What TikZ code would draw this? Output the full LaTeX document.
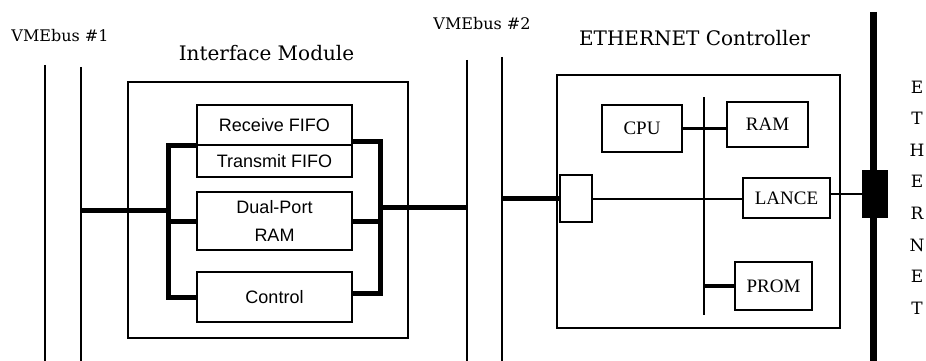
\documentclass[tikz,border=0pt]{standalone}
\usepackage{fontspec}
\setmainfont{DejaVu Serif}
\newfontfamily\sansbox{Liberation Sans}
\newfontfamily\serifbox{Liberation Serif}
\usetikzlibrary{calc}
\begin{document}
\begin{tikzpicture}[x=1pt,y=-1pt,
  bus/.style={line width=2.8pt},
  thk/.style={line width=5pt},
  thn/.style={line width=2pt},
  frame/.style={draw,line width=1.8pt,inner sep=0pt,outer sep=0pt},
  box/.style={draw,line width=1.6pt,inner sep=0pt,outer sep=0pt,fill=white},
  sbox/.style={box,font=\sansbox\fontsize{18}{28}\selectfont,align=center},
  rbox/.style={box,font=\serifbox\fontsize{19}{22}\selectfont},
  title/.style={font=\fontsize{20}{24}\selectfont},
  busname/.style={font=\fontsize{16}{19}\selectfont}]
\useasboundingbox (0,0) rectangle (926,361);
\fill[white] (0,0) rectangle (926,361);

% VME bus lines
\coordinate (b1t) at (45,65);  \coordinate (b1b) at (45,361);
\coordinate (b2t) at (81,67);  \coordinate (b2b) at (81,361);
\coordinate (b3t) at (467,60); \coordinate (b3b) at (467,361);
\coordinate (b4t) at (502,57); \coordinate (b4b) at (502,361);
\draw[bus] (b1t) -- (b1b);
\draw[bus] (b2t) -- (b2b);
\draw[bus] (b3t) -- (b3b);
\draw[bus] (b4t) -- (b4b);
\node[busname] (vme1) at (60,36) {VMEbus \#1};
\node[busname] (vme2) at (482,24) {VMEbus \#2};

% Interface module
\node[title] (imt) at (266.5,53) {Interface Module};
\node[frame,minimum width=280pt,minimum height=256pt] (im) at (268,210) {};
\node[sbox,minimum width=155pt,minimum height=40pt] (rx) at (274.5,125) {Receive FIFO};
\node[sbox,minimum width=155pt,minimum height=32pt] (tx) at (274.5,161) {Transmit FIFO};
\node[sbox,minimum width=155pt,minimum height=58pt] (dp) at (274.5,221) {Dual-Port\\RAM};
\node[sbox,minimum width=155pt,minimum height=50pt] (ctl) at (274.5,297) {Control};

\coordinate (lbt) at (168,145); \coordinate (lbb) at (168,297);
\coordinate (rbt) at (380,141); \coordinate (rbb) at (380,293);
\coordinate (lj) at (168,210);  \coordinate (rj) at (380,207);
\draw[thk] (tx.north west) -- (lbt) -- (lbb) -- (ctl.west);
\draw[thk] (dp.west) -- (dp.west -| lbt);
\draw[thk] (rx.east |- rbt) -- (rbt) -- (rbb) -- (ctl.east |- rbb);
\draw[thk] (dp.east) -- (dp.east -| rbt);
\draw[thk] (lj -| b2t) -- (lj);
\draw[thk] (rj) -- (rj -| b3t);

% ETHERNET controller
\node[title] (ect) at (694.5,38) {ETHERNET Controller};
\node[frame,minimum width=283pt,minimum height=253pt] (ec) at (698.5,201.5) {};
\coordinate (vt) at (704,97); \coordinate (vb) at (704,315);
\draw[thn] (vt) -- (vb);
\node[box,minimum width=32pt,minimum height=47pt] (ifb) at (576,198.5) {};
\node[rbox,minimum width=80pt,minimum height=47pt] (cpu) at (642,128.5) {CPU};
\node[rbox,minimum width=81pt,minimum height=45pt] (ram) at (767.5,124.5) {RAM};
\node[rbox,minimum width=87pt,minimum height=40pt] (lance) at (786.5,198) {LANCE};
\node[rbox,minimum width=77pt,minimum height=48pt] (prom) at (773.5,286) {PROM};
\draw[thk] (ifb.west -| b4t) -- (ifb.west);
\draw[thn] (ifb.east) -- (ifb.east -| lance.west);
\draw[line width=3pt] (cpu.east) -- (cpu.east -| ram.west);
\draw[line width=4pt] (prom.west -| vt) -- (prom.west);

% Ethernet cable and transceiver
\coordinate (ct) at (873,12); \coordinate (cb) at (873,361);
\draw[line width=7pt] (ct) -- (cb);
\node[fill=black,inner sep=0pt,minimum width=26pt,minimum height=48pt] (tr) at (875,194) {};
\draw[thn] (tr.west) -- (tr.west -| lance.east);
\node[font=\fontsize{17}{31.6}\selectfont,align=center] (eth) at (917,197.5) {E\\T\\H\\E\\R\\N\\E\\T};
\end{tikzpicture}
\end{document}
